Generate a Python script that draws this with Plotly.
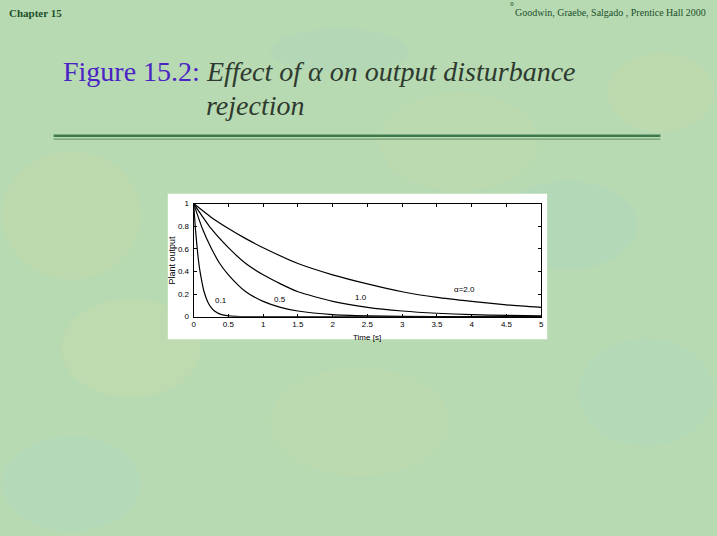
import plotly.graph_objects as go

# ---- data ----
t_a2 = [0, 0.25, 0.5, 0.75, 1, 1.5, 2, 2.5, 3, 3.5, 4, 4.5, 5]
y_a2 = [1.0, 0.88, 0.78, 0.69, 0.61, 0.47, 0.37, 0.29, 0.22, 0.17, 0.135, 0.105, 0.082]

t_a1 = [0, 0.25, 0.5, 0.75, 1, 1.25, 1.5, 2, 2.5, 3, 3.5, 4, 4.5, 5]
y_a1 = [1.0, 0.78, 0.61, 0.47, 0.37, 0.29, 0.22, 0.135, 0.082, 0.05, 0.03, 0.018, 0.011, 0.007]

t_a05 = [0, 0.125, 0.25, 0.375, 0.5, 0.75, 1, 1.25, 1.5, 2, 2.5, 3, 4, 5]
y_a05 = [1.0, 0.78, 0.61, 0.47, 0.37, 0.22, 0.135, 0.082, 0.05, 0.018, 0.007, 0.0025, 0.0003, 0.0]

t_a01 = [0, 0.025, 0.05, 0.075, 0.1, 0.15, 0.2, 0.25, 0.3, 0.4, 0.5, 0.6, 0.8, 1, 5]
y_a01 = [1.0, 0.78, 0.61, 0.47, 0.37, 0.22, 0.135, 0.082, 0.05, 0.018, 0.007, 0.0025, 0.0003, 0.0, 0.0]

x_ticks = [0, 0.5, 1, 1.5, 2, 2.5, 3, 3.5, 4, 4.5, 5]
x_tick_labels = ["0", "0.5", "1", "1.5", "2", "2.5", "3", "3.5", "4", "4.5", "5"]
y_ticks = [0, 0.2, 0.4, 0.6, 0.8, 1]
y_tick_labels = ["0", "0.2", "0.4", "0.6", "0.8", "1"]

curve_labels = ["0.1", "0.5", "1.0", "α=2.0"]
label_x = [0.4, 1.24, 2.41, 3.89]
label_y = [0.146, 0.155, 0.17, 0.24]

W, H = 717, 536

fig = go.Figure()
for tx, ty in [(t_a01, y_a01), (t_a05, y_a05), (t_a1, y_a1), (t_a2, y_a2)]:
    fig.add_trace(go.Scatter(x=tx, y=ty, mode="lines", line=dict(color="black", width=1.2, shape="spline", smoothing=0.6),
                             showlegend=False, hoverinfo="skip"))

# plot-area domain in page pixels
x0, x1 = 193, 543
yt, yb = 203, 318

ax_common = dict(showgrid=False, zeroline=False, showline=True, linecolor="black", linewidth=1,
                 mirror="ticks", ticks="inside", ticklen=3, tickcolor="black",
                 tickfont=dict(family="Liberation Sans, Arial", size=8, color="black"))
fig.update_layout(
    width=W, height=H,
    margin=dict(l=0, r=0, t=0, b=0),
    paper_bgcolor="#b8dab2",
    plot_bgcolor="white",
    xaxis=dict(domain=[x0 / W, x1 / W], range=[0, 5], tickvals=x_ticks, ticktext=x_tick_labels,
               ticklabelstandoff=0, **ax_common),
    yaxis=dict(domain=[1 - yb / H, 1 - yt / H], range=[0, 1], tickvals=y_ticks, ticktext=y_tick_labels,
               ticklabelstandoff=2, **ax_common),
)

shapes = []
# subtle background blotches
blobs = [
    (0, 150, 140, 280, "#c9dca6"), (380, 90, 540, 190, "#c6dba8"), (580, 340, 717, 450, "#a9d6c4"),
    (60, 300, 200, 400, "#cddca8"), (270, 370, 450, 480, "#c6dcaa"), (500, 180, 640, 270, "#a8d4c2"),
    (0, 440, 140, 536, "#aad6c6"), (610, 50, 717, 130, "#c6d9a6"), (270, 25, 410, 70, "#abd4be"),
]
for (bx0, by0, bx1, by1, c) in blobs:
    shapes.append(dict(type="circle", xref="paper", yref="paper", x0=bx0 / W, x1=bx1 / W,
                       y0=1 - by1 / H, y1=1 - by0 / H, fillcolor=c, opacity=0.3, line=dict(width=0), layer="below"))
# white figure panel
shapes.append(dict(type="rect", xref="paper", yref="paper", x0=167 / W, x1=549 / W, y0=1 - 341 / H, y1=1 - 193 / H,
                   fillcolor="white", line=dict(width=0), layer="below"))
# title rule (double green line)
shapes.append(dict(type="line", xref="paper", yref="paper", x0=52 / W, x1=663 / W, y0=1 - 134 / H, y1=1 - 134 / H,
                   line=dict(color="#3f7a4f", width=2.5)))
shapes.append(dict(type="line", xref="paper", yref="paper", x0=52 / W, x1=663 / W, y0=1 - 137.5 / H, y1=1 - 137.5 / H,
                   line=dict(color="#6f9a70", width=1.2)))
fig.update_layout(shapes=shapes)

ann = []
for txt, lx, ly in zip(curve_labels, label_x, label_y):
    ann.append(dict(x=lx, y=ly, xref="x", yref="y", text=txt, showarrow=False, xanchor="center", yanchor="middle",
                    font=dict(family="Liberation Sans, Arial", size=8, color="black")))
ann.append(dict(x=368 / W, y=1 - 333 / H, xref="paper", yref="paper", text="Time [s]", showarrow=False,
                yanchor="top", font=dict(family="Liberation Sans, Arial", size=8, color="black")))
ann.append(dict(x=171 / W, y=1 - 260 / H, xref="paper", yref="paper", text="Plant output", showarrow=False, textangle=-90,
                xanchor="center", font=dict(family="Liberation Sans, Arial", size=9, color="black")))
ann.append(dict(x=5 / W, y=1 - 9 / H, xref="paper", yref="paper", text="<b>Chapter 15</b>", showarrow=False,
                xanchor="left", yanchor="middle", font=dict(family="Liberation Serif, Times New Roman", size=11, color="#1b4f2a")))
ann.append(dict(x=711 / W, y=1 - 9 / H, xref="paper", yref="paper", text="Goodwin, Graebe, Salgado , Prentice Hall 2000",
                showarrow=False, xanchor="right", yanchor="middle",
                font=dict(family="Liberation Serif, Times New Roman", size=10, color="#1b4f2a")))
ann.append(dict(x=514 / W, y=1 - 3 / H, xref="paper", yref="paper", text="<b>°</b>", showarrow=False, xanchor="center", yanchor="middle",
                font=dict(family="Liberation Serif, Times New Roman", size=10, color="#1b4f2a")))
ann.append(dict(x=59 / W, y=1 - 69 / H, xref="paper", yref="paper", text="Figure 15.2:", showarrow=False,
                xanchor="left", yanchor="middle", font=dict(family="Liberation Serif, Times New Roman", size=28, color="#4a23c4")))
ann.append(dict(x=203 / W, y=1 - 69 / H, xref="paper", yref="paper", text="<i>Effect of α on output disturbance</i>",
                showarrow=False, xanchor="left", yanchor="middle",
                font=dict(family="Liberation Serif, Times New Roman", size=28, color="#2e3a30")))
ann.append(dict(x=203 / W, y=1 - 103 / H, xref="paper", yref="paper", text="<i>rejection</i>",
                showarrow=False, xanchor="left", yanchor="middle",
                font=dict(family="Liberation Serif, Times New Roman", size=28, color="#2e3a30")))
fig.update_layout(annotations=ann)

fig.write_html("out.html", config={"displayModeBar": False}, post_script="document.body.style.margin='0';")
